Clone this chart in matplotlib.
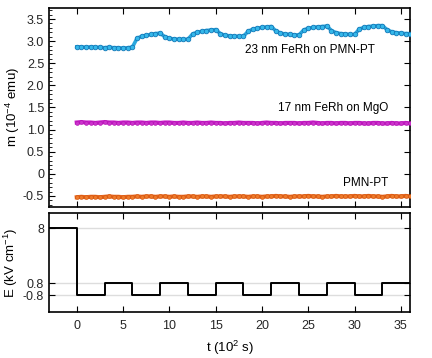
import numpy as np
import matplotlib
matplotlib.use('Agg')
import matplotlib.pyplot as plt
from matplotlib.ticker import MultipleLocator

plt.rcParams['font.family'] = ['Liberation Sans', 'DejaVu Sans']
plt.rcParams['font.size'] = 9
plt.rcParams['mathtext.default'] = 'regular'

# time grid of the magnetisation data (10^2 s)
t_m = np.arange(0, 36.01, 0.5)

# 23 nm FeRh on PMN-PT
m_pmnpt = [2.87, 2.87, 2.86, 2.87, 2.86, 2.86, 2.85, 2.86, 2.85, 2.85, 2.84, 2.85, 2.86,
           3.06, 3.11, 3.13, 3.15, 3.17, 3.18,
           3.10, 3.06, 3.05, 3.04, 3.04, 3.04,
           3.16, 3.20, 3.22, 3.24, 3.25, 3.26,
           3.17, 3.13, 3.12, 3.11, 3.11, 3.11,
           3.22, 3.27, 3.29, 3.31, 3.32, 3.33,
           3.23, 3.18, 3.16, 3.15, 3.14, 3.14,
           3.25, 3.29, 3.31, 3.32, 3.33, 3.34,
           3.24, 3.19, 3.17, 3.16, 3.15, 3.15,
           3.27, 3.31, 3.33, 3.34, 3.35, 3.35,
           3.26, 3.21, 3.19, 3.18, 3.17, 3.17]

# 17 nm FeRh on MgO
m_mgo = [1.16, 1.17, 1.16, 1.16, 1.15, 1.16, 1.17, 1.16, 1.16, 1.15, 1.16, 1.16, 1.15,
         1.16, 1.16, 1.15, 1.16, 1.16, 1.15, 1.16, 1.16, 1.15, 1.15, 1.16, 1.15,
         1.15, 1.16, 1.15, 1.15, 1.16, 1.15, 1.15, 1.14, 1.15, 1.15, 1.16, 1.15,
         1.15, 1.15, 1.14, 1.15, 1.16, 1.15, 1.15, 1.14, 1.15, 1.15, 1.15, 1.14,
         1.15, 1.15, 1.16, 1.15, 1.14, 1.15, 1.15, 1.14, 1.15, 1.15, 1.14, 1.15,
         1.15, 1.14, 1.14, 1.15, 1.15, 1.14, 1.14, 1.15, 1.14, 1.14, 1.15, 1.14]

# bare PMN-PT substrate
m_sub = [-0.53, -0.52, -0.53, -0.52, -0.52, -0.53, -0.52, -0.51, -0.52, -0.52, -0.53, -0.52, -0.52,
         -0.51, -0.52, -0.51, -0.51, -0.52, -0.51, -0.51, -0.52, -0.51, -0.52, -0.52, -0.51,
         -0.51, -0.52, -0.51, -0.51, -0.52, -0.51, -0.51, -0.51, -0.52, -0.51, -0.51, -0.51,
         -0.52, -0.51, -0.51, -0.52, -0.51, -0.51, -0.50, -0.51, -0.51, -0.52, -0.51, -0.51,
         -0.51, -0.50, -0.51, -0.51, -0.52, -0.51, -0.51, -0.50, -0.51, -0.51, -0.51, -0.50,
         -0.51, -0.51, -0.50, -0.51, -0.51, -0.52, -0.51, -0.50, -0.51, -0.51, -0.50, -0.51]

# electric field sequence (kV/cm), value holds from each time until the next
t_E = [-3, 0, 3, 6, 9, 12, 15, 18, 21, 24, 27, 30, 33, 36]
E = [8, -0.8, 0.8, -0.8, 0.8, -0.8, 0.8, -0.8, 0.8, -0.8, 0.8, -0.8, 0.8, 0.8]

fig = plt.figure(figsize=(4.32, 3.58), dpi=100)
ax1 = fig.add_axes([0.1134, 0.4218, 0.836, 0.556])
ax2 = fig.add_axes([0.1134, 0.1285, 0.836, 0.2765])

# top panel
ax1.plot(t_m, m_pmnpt, '-', color='#2aa7de', lw=2.6, zorder=2)
ax1.plot(t_m, m_pmnpt, 'o', ms=3.3, mfc='#35b8ea', mec='#1479b8', mew=0.6, zorder=3)
ax1.plot(t_m, m_mgo, '-', color='#c81ec8', lw=3.0, zorder=2)
ax1.plot(t_m, m_mgo, 'o', ms=2.8, mfc='#cc33cc', mec='#b010b0', mew=0.4, zorder=3)
ax1.plot(t_m, m_sub, '-', color='#e8661e', lw=3.0, zorder=2)
ax1.plot(t_m, m_sub, 'o', ms=2.8, mfc='#ee7a2a', mec='#d0500a', mew=0.4, zorder=3)

ax1.text(32.2, 2.80, '23 nm FeRh on PMN-PT', ha='right', va='center', fontsize=8.5)
ax1.text(33.6, 1.48, '17 nm FeRh on MgO', ha='right', va='center', fontsize=8.5)
ax1.text(33.6, -0.21, 'PMN-PT', ha='right', va='center', fontsize=8.5)

ax1.set_xlim(-3, 36)
ax1.set_ylim(-0.75, 3.75)
ax1.set_xticks([0, 5, 10, 15, 20, 25, 30, 35])
ax1.set_yticks([-0.5, 0, 0.5, 1.0, 1.5, 2.0, 2.5, 3.0, 3.5])
ax1.set_yticklabels(['-0.5', '0', '0.5', '1.0', '1.5', '2.0', '2.5', '3.0', '3.5'])
ax1.yaxis.set_minor_locator(MultipleLocator(0.1))
ax1.tick_params(which='both', direction='in', top=True, right=True, labelbottom=False,
                labelcolor='#262626')
ax1.tick_params(which='major', length=4)
ax1.tick_params(which='minor', length=2, right=False)
ax1.set_ylabel('m (10$^{-4}$ emu)', fontsize=9.5)
ax1.yaxis.set_label_coords(-0.075, 0.5)

# bottom panel
ax2.step(t_E, E, where='post', color='black', lw=1.4)
ax2.set_xlim(-3, 36)
ax2.set_ylim(-3, 10)
ax2.set_xticks([0, 5, 10, 15, 20, 25, 30, 35])
ax2.set_yticks([-0.8, 0.8, 8])
ax2.set_yticklabels(['-0.8', '0.8', '8'])
ax2.grid(axis='y', color='#dddddd', lw=1)
ax2.set_axisbelow(True)
ax2.tick_params(direction='in', top=True, right=True, length=4, labelcolor='#262626')
ax2.tick_params(axis='x', pad=6)
ax2.set_xlabel('t (10$^{2}$ s)', fontsize=9.5, labelpad=5)
ax2.set_ylabel('E (kV cm$^{-1}$)', fontsize=9.5)
ax2.yaxis.set_label_coords(-0.08, 0.5)

for ax in (ax1, ax2):
    for s in ax.spines.values():
        s.set_linewidth(1.2)

fig.savefig('out.png', dpi=100)
